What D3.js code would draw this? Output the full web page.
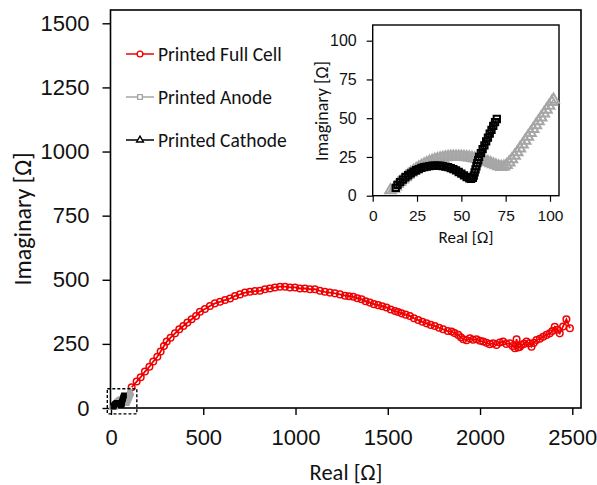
<!DOCTYPE html>
<html>
<head>
<meta charset="utf-8">
<script src="https://cdn.jsdelivr.net/npm/d3@7"></script>
<style>
  body { margin: 0; background: #fff; }
  svg { display: block; font-family: Carlito, Calibri, "Open Sans", sans-serif; }
</style>
</head>
<body>
<div id="chart"></div>
<script>
// ---- data (Real, Imaginary) in Ohm ----
const fullCellReal = [112, 139, 161, 184, 208, 229, 251, 269, 287, 302, 323, 347, 370, 392, 414, 437, 461, 482, 509, 536,
  563, 591, 618, 645, 672, 699, 726, 753, 780, 807, 834, 861, 888, 916, 943, 970, 997, 1024, 1051, 1078,
  1105, 1132, 1159, 1186, 1213, 1241, 1268, 1290, 1313, 1335, 1358, 1380, 1403, 1425, 1448, 1470, 1493, 1516, 1539, 1556,
  1575, 1597, 1620, 1642, 1665, 1688, 1710, 1733, 1755, 1778, 1800, 1825, 1846, 1862, 1882, 1896, 1909, 1927, 1945, 1962,
  1981, 2000, 2017, 2035, 2053, 2071, 2089, 2107, 2125, 2143, 2161, 2176, 2189, 2198, 2206, 2215, 2225, 2238, 2252, 2266,
  2279, 2292, 2306, 2324, 2342, 2360, 2378, 2392, 2405, 2420, 2432, 2450, 2468, 2487];
const fullCellImag = [81, 103, 120, 142, 161, 181, 200, 220, 242, 259, 274, 291, 307, 320, 333, 346, 359, 375, 386, 398,
  408, 414, 421, 427, 437, 443, 450, 453, 456, 457, 463, 466, 470, 473, 473, 470, 470, 466, 466, 463,
  463, 457, 453, 450, 447, 443, 438, 436, 434, 428, 424, 416, 411, 405, 401, 397, 392, 384, 378, 374,
  369, 364, 359, 350, 343, 336, 330, 324, 320, 313, 307, 300, 298, 292, 285, 276, 268, 264, 272, 266,
  268, 262, 259, 254, 249, 252, 246, 255, 259, 250, 252, 242, 233, 268, 236, 238, 246, 250, 259, 252,
  239, 254, 265, 270, 278, 285, 291, 300, 317, 305, 291, 318, 346, 311];

// gray curve (triangles in the inset)
const anodeReal = [10, 12, 13, 14, 15.5, 17, 18.5, 20, 21.5, 23, 24.5, 26, 27.5, 29, 30.5, 32, 33.5, 35, 36.5, 38,
  39.5, 41, 42.5, 44, 45.5, 47, 48.5, 50, 51.5, 53, 54.5, 56, 57.5, 59, 60.5, 62, 63.5, 65, 66.5, 68,
  69.5, 71, 72.5, 74, 75.5, 77, 78.5, 80, 81.5, 83, 84.5, 86, 87.5, 89, 90.5, 92, 93.5, 95, 96.5, 98,
  99.5, 101, 102];
const anodeImag = [3.5, 4.5, 6, 7.5, 9, 10.5, 12, 13.5, 14.8, 16, 17.2, 18.3, 19.3, 20.2, 21, 21.8, 22.5, 23.1, 23.6, 24.1,
  24.5, 24.8, 25, 25.2, 25.3, 25.3, 25.3, 25.2, 25.1, 24.9, 24.7, 24.4, 24.1, 23.7, 23.3, 22.8, 22.3, 21.7, 21, 20.3,
  19.6, 19, 18.6, 18.8, 19.8, 21.5, 23.5, 25.8, 28, 30.5, 33, 35.5, 38, 40.5, 43, 45.5, 48, 50.5, 53, 55.5,
  58, 60.5, 62];

// black curve (squares in the inset)
const cathodeReal = [13, 14, 15.5, 17, 18.5, 20, 21.5, 23, 24.5, 26, 27.5, 29, 30.5, 32, 33.5, 35, 36.5, 38, 39.5, 41,
  42.5, 44, 45.5, 47, 48.5, 50, 51.5, 53, 54.5, 55.5, 56.5, 57, 57.5, 58, 58.5, 59, 59.5, 60, 61, 62,
  63, 64, 65, 66, 67, 68, 69, 70];
const cathodeImag = [5, 7, 8.8, 10.4, 11.9, 13.2, 14.4, 15.5, 16.4, 17.2, 17.9, 18.4, 18.8, 19.1, 19.3, 19.4, 19.4, 19.3, 19.1, 18.8,
  18.4, 17.8, 17.1, 16.3, 15.3, 14.2, 13.1, 12, 11.2, 10.8, 11.5, 13, 15, 17, 19, 21, 23, 25, 27.5, 30,
  32.5, 35, 37.5, 40, 42.5, 45, 47.5, 49.5];

const mainXTicks = [0, 500, 1000, 1500, 2000, 2500];
const mainYTicks = [0, 250, 500, 750, 1000, 1250, 1500];
const insetTicks = [0, 25, 50, 75, 100];
const legendLabels = ["Printed Full Cell", "Printed Anode", "Printed Cathode"];

const zip = (xs, ys) => xs.map((x, i) => ({ x: x, y: ys[i] }));
const fullCell = zip(fullCellReal, fullCellImag);
const anode = zip(anodeReal, anodeImag);
const cathode = zip(cathodeReal, cathodeImag);

const RED = "#f00000";
const GRAY = "#a6a6a6";
const BLACK = "#000";
const fmt = d3.format("d");

const width = 597, height = 485;
const svg = d3.select("#chart").append("svg")
  .attr("width", width)
  .attr("height", height);

// 1) main plot scales
const x = d3.scaleLinear().domain([0, 2500]).range([111, 572.3]);
const y = d3.scaleLinear().domain([0, 1500]).range([408, 23.3]);
const frame = { left: 110.5, top: 10, right: 581, bottom: 408 };

svg.append("rect")
  .attr("x", frame.left).attr("y", frame.top)
  .attr("width", frame.right - frame.left).attr("height", frame.bottom - frame.top)
  .attr("fill", "none").attr("stroke", "#000").attr("stroke-width", 1.6);

// 2) axes (ticks outside, no domain)
const xAxis = svg.append("g")
  .attr("transform", `translate(0,${frame.bottom})`)
  .call(d3.axisBottom(x).tickValues(mainXTicks).tickFormat(fmt).tickSize(7).tickPadding(14));
xAxis.select(".domain").remove();
xAxis.selectAll(".tick line").attr("stroke", "#000").attr("stroke-width", 1.4);
xAxis.selectAll("text").style("font-size", "22px").attr("fill", "#111");

const yAxis = svg.append("g")
  .attr("transform", `translate(${frame.left},0)`)
  .call(d3.axisLeft(y).tickValues(mainYTicks).tickFormat(fmt).tickSize(8).tickPadding(13));
yAxis.select(".domain").remove();
yAxis.selectAll(".tick line").attr("stroke", "#000").attr("stroke-width", 1.4);
yAxis.selectAll("text").style("font-size", "22px").attr("fill", "#111");

svg.append("text")
  .attr("x", 346).attr("y", 480)
  .attr("text-anchor", "middle")
  .style("font-size", "22.5px")
  .attr("fill", "#111")
  .text("Real [Ω]");

svg.append("text")
  .attr("transform", "translate(31,219) rotate(-90)")
  .attr("text-anchor", "middle")
  .style("font-size", "24px")
  .attr("fill", "#111")
  .text("Imaginary [Ω]");

// 3) series helpers
function drawSeries(g, data, sx, sy, color, shape, size, lineW, markW) {
  g.append("path")
    .datum(data)
    .attr("fill", "none")
    .attr("stroke", color)
    .attr("stroke-width", lineW)
    .attr("d", d3.line().x(d => sx(d.x)).y(d => sy(d.y)));
  g.selectAll(null)
    .data(data)
    .enter().append("path")
    .attr("transform", d => `translate(${sx(d.x)},${sy(d.y)})`)
    .attr("d", d3.symbol().type(shape).size(size))
    .attr("fill", "none")
    .attr("stroke", color)
    .attr("stroke-width", markW);
}

const plot = svg.append("g");
drawSeries(plot, fullCell, x, y, RED, d3.symbolCircle, 34, 1.8, 1.5);
drawSeries(plot, anode, x, y, GRAY, d3.symbolTriangle, 20, 1.5, 1.5);
drawSeries(plot, cathode, x, y, BLACK, d3.symbolSquare, 16, 1.5, 1.5);

// dashed box marking the zoomed region
svg.append("rect")
  .attr("x", x(-20)).attr("y", y(75))
  .attr("width", x(140) - x(-20)).attr("height", y(-23) - y(75))
  .attr("fill", "none").attr("stroke", "#000")
  .attr("stroke-width", 1.4).attr("stroke-dasharray", "3,2");

// 4) legend
const legend = svg.append("g");
const legendRows = [
  { label: legendLabels[0], color: RED, shape: d3.symbolCircle, size: 26 },
  { label: legendLabels[1], color: GRAY, shape: d3.symbolSquare, size: 22 },
  { label: legendLabels[2], color: BLACK, shape: d3.symbolTriangle, size: 20 }
];
legendRows.forEach((r, i) => {
  const ly = 54 + i * 43;
  legend.append("line")
    .attr("x1", 126).attr("x2", 154).attr("y1", ly).attr("y2", ly)
    .attr("stroke", r.color).attr("stroke-width", 1.5);
  legend.append("path")
    .attr("transform", `translate(140,${ly})`)
    .attr("d", d3.symbol().type(r.shape).size(r.size))
    .attr("fill", "#fff").attr("stroke", r.color).attr("stroke-width", 1.4);
  legend.append("text")
    .attr("x", 158).attr("y", ly)
    .attr("dy", "0.35em")
    .style("font-size", "19.5px")
    .attr("fill", "#111")
    .text(r.label);
});

// 5) inset
const ix = d3.scaleLinear().domain([0, 100]).range([372.7, 550]);
const iy = d3.scaleLinear().domain([0, 100]).range([195.7, 40.7]);
const iframe = { left: 372.7, top: 25, right: 559, bottom: 195.7 };

svg.append("rect")
  .attr("x", iframe.left).attr("y", iframe.top)
  .attr("width", iframe.right - iframe.left).attr("height", iframe.bottom - iframe.top)
  .attr("fill", "#fff").attr("stroke", "#000").attr("stroke-width", 1.4);

const ixAxis = svg.append("g")
  .attr("transform", `translate(0,${iframe.bottom})`)
  .call(d3.axisBottom(ix).tickValues(insetTicks).tickSize(6).tickPadding(8));
ixAxis.select(".domain").remove();
ixAxis.selectAll(".tick line").attr("stroke", "#000").attr("stroke-width", 1.2);
ixAxis.selectAll("text").style("font-size", "15.5px").attr("fill", "#111");

const iyAxis = svg.append("g")
  .attr("transform", `translate(${iframe.left},0)`)
  .call(d3.axisLeft(iy).tickValues(insetTicks).tickSize(6).tickPadding(10));
iyAxis.select(".domain").remove();
iyAxis.selectAll(".tick line").attr("stroke", "#000").attr("stroke-width", 1.2);
iyAxis.selectAll("text").style("font-size", "16px").attr("fill", "#111");

svg.append("text")
  .attr("x", 466).attr("y", 243)
  .attr("text-anchor", "middle")
  .style("font-size", "17px")
  .attr("fill", "#111")
  .text("Real [Ω]");

svg.append("text")
  .attr("transform", "translate(328,111) rotate(-90)")
  .attr("text-anchor", "middle")
  .style("font-size", "18px")
  .attr("fill", "#111")
  .text("Imaginary [Ω]");

const inset = svg.append("g");
drawSeries(inset, anode, ix, iy, GRAY, d3.symbolTriangle, 48, 1.5, 2);
drawSeries(inset, cathode, ix, iy, BLACK, d3.symbolSquare, 40, 1.5, 2);
</script>
</body>
</html>
